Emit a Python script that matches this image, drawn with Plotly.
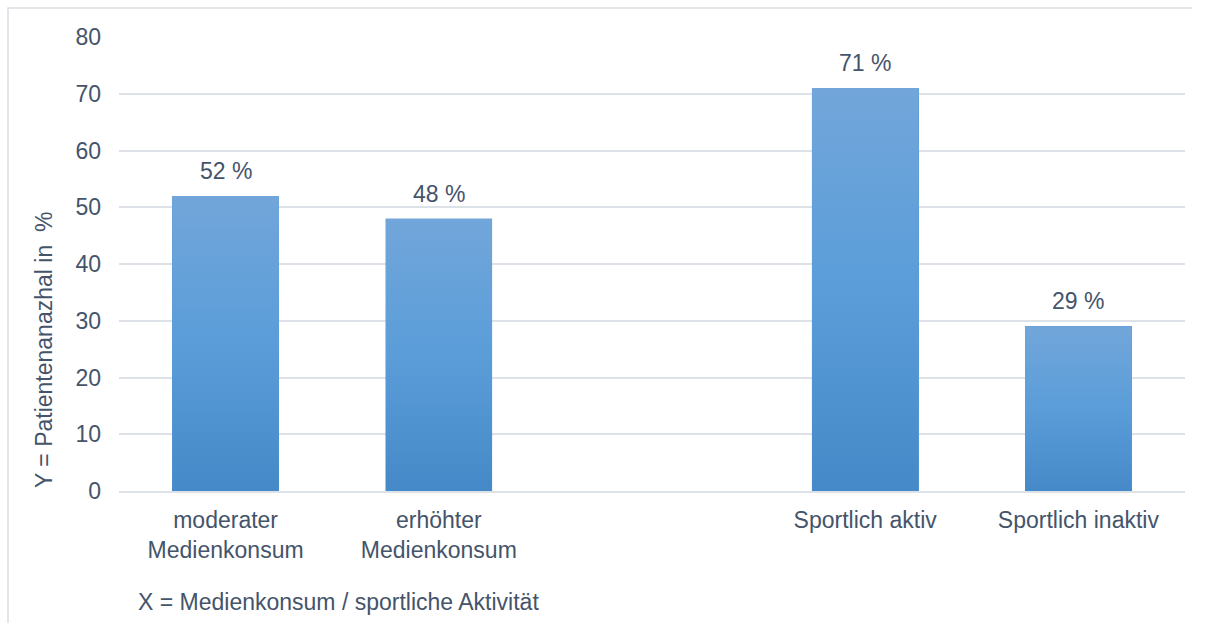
import plotly.graph_objects as go

# Data
positions = [0, 1, 3, 4]
tick_labels = ["moderater<br>Medienkonsum", "erhöhter<br>Medienkonsum",
               "Sportlich aktiv", "Sportlich inaktiv"]
values = [52, 48, 71, 29]
value_labels = [f"{v} %" for v in values]

W, H = 1206, 623
PX0, PX1, PY0, PY1 = 119, 1185, 37, 491   # plot box in figure pixels
TEXT = "#44546a"
GRID = "#dde1e8"
FRAME = "#d9dde4"
FONT = "Liberation Sans, Arial, sans-serif"
FS = 23
BAR_W = 0.5

fig = go.Figure()

# Base bars
fig.add_trace(go.Bar(
    x=positions, y=values, width=BAR_W,
    marker=dict(color="#5a9bd6", line=dict(width=0)),
    hoverinfo="skip", showlegend=False,
))

# Vertical gradient overlay for each bar (light top, darker bottom)
for p, v in zip(positions, values):
    fig.add_trace(go.Scatter(
        x=[p - BAR_W / 2, p - BAR_W / 2, p + BAR_W / 2, p + BAR_W / 2, p - BAR_W / 2],
        y=[0, v, v, 0, 0],
        mode="lines", line=dict(width=0), fill="toself",
        fillgradient=dict(type="vertical", start=0, stop=v,
                          colorscale=[[0, "#4589c8"], [0.5, "#5a9dd9"], [1, "#72a6da"]]),
        hoverinfo="skip", showlegend=False,
    ))

# Chart frame (top and left edges) on a full-page pixel axis pair
fig.add_trace(go.Scatter(
    x=[8, 8, 1192], y=[H, 8, 8], xaxis="x2", yaxis="y2",
    mode="lines", line=dict(color=FRAME, width=1.5),
    hoverinfo="skip", showlegend=False,
))

# Value labels above bars
for p, v, lab in zip(positions, values, value_labels):
    fig.add_annotation(x=p, y=v, xref="x", yref="y", text=lab, showarrow=False,
                       yanchor="bottom", yshift=10,
                       font=dict(family=FONT, size=FS, color=TEXT))

# Axis titles
fig.add_annotation(x=44 / W, y=1 - 350 / H, xref="paper", yref="paper",
                   text="Y = Patientenanazhal in \u00a0%",
                   textangle=-90, showarrow=False, xanchor="center", yanchor="middle",
                   font=dict(family=FONT, size=FS, color=TEXT))
fig.add_annotation(x=136 / W, y=1 - 602 / H, xref="paper", yref="paper",
                   text="X = Medienkonsum / sportliche Aktivität",
                   showarrow=False, xanchor="left", yanchor="middle",
                   font=dict(family=FONT, size=FS, color=TEXT))

fig.update_layout(
    width=W, height=H,
    margin=dict(l=0, r=0, t=0, b=0),
    paper_bgcolor="white", plot_bgcolor="rgba(0,0,0,0)",
    font=dict(family=FONT, size=FS, color=TEXT),
    showlegend=False,
    bargap=0,
    xaxis=dict(
        domain=[PX0 / W, PX1 / W], automargin=False,
        range=[-0.5, 4.5], tickmode="array", tickvals=positions, ticktext=tick_labels,
        showgrid=False, zeroline=False, showline=True, linecolor=GRID, linewidth=1.5,
        ticks="", ticklabelstandoff=8, tickfont=dict(size=FS, color=TEXT),
    ),
    yaxis=dict(
        domain=[1 - PY1 / H, 1 - PY0 / H], automargin=False,
        range=[0, 80], tickmode="array", tickvals=list(range(0, 81, 10)),
        showgrid=True, gridcolor=GRID, gridwidth=1.5, zeroline=False, showline=False,
        ticks="", ticklabelstandoff=17, tickfont=dict(size=FS, color=TEXT),
    ),
    xaxis2=dict(domain=[0, 1], range=[0, W], visible=False, fixedrange=True,
                anchor="y2", automargin=False),
    yaxis2=dict(domain=[0, 1], range=[H, 0], visible=False, fixedrange=True,
                anchor="x2", automargin=False),
)

fig.write_html("out.html")
